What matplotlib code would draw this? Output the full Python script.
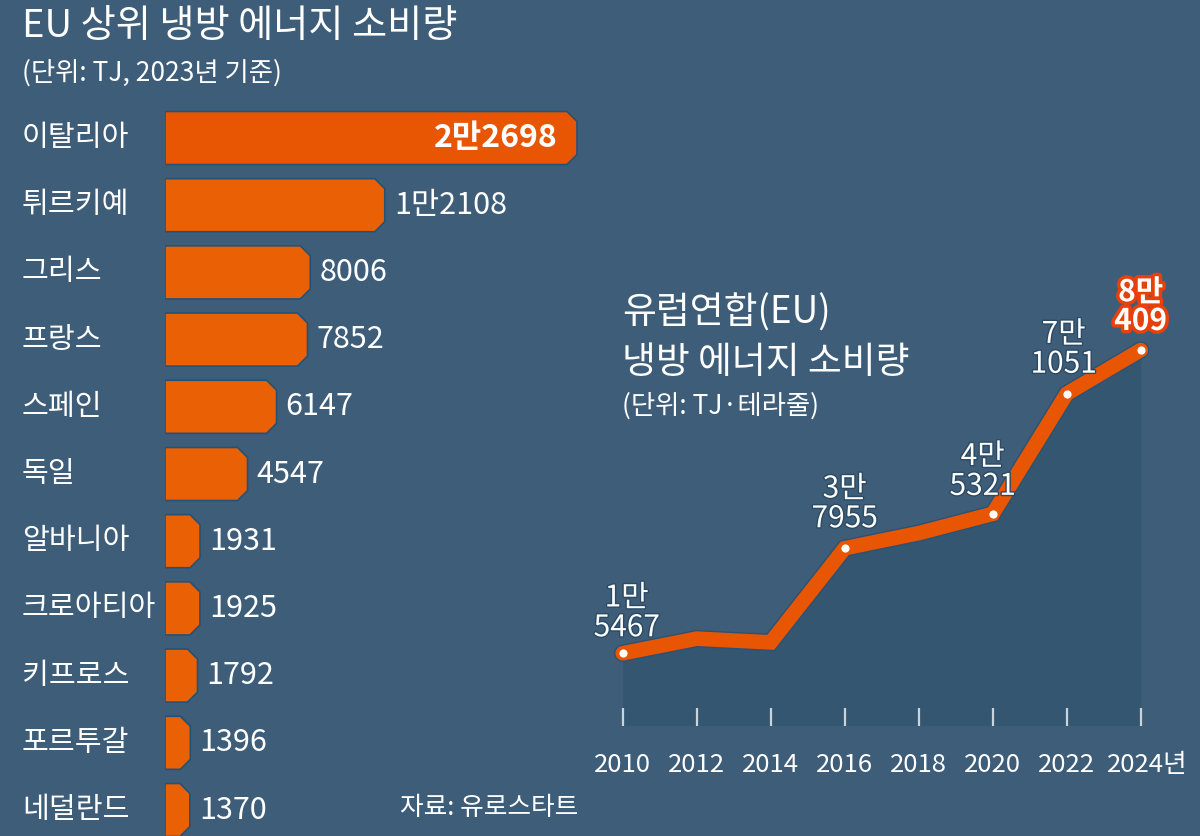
import matplotlib
matplotlib.use('Agg')
import matplotlib.pyplot as plt
import matplotlib.patheffects as pe
from matplotlib.patches import Polygon
import numpy as np

plt.rcParams['font.family'] = ['Noto Sans CJK KR', 'DejaVu Sans']

# data
countries = ['이탈리아', '튀르키예', '그리스', '프랑스', '스페인', '독일',
             '알바니아', '크로아티아', '키프로스', '포르투갈', '네덜란드']
cool_2023 = [22698, 12108, 8006, 7852, 6147, 4547, 1931, 1925, 1792, 1396, 1370]
cool_labels = ['2만2698', '1만2108', '8006', '7852', '6147', '4547',
               '1931', '1925', '1792', '1396', '1370']

years = [2010, 2012, 2014, 2016, 2018, 2020, 2022, 2024]
eu_total = [15467, 18600, 17800, 37955, 41200, 45321, 71051, 80409]
point_years = [2010, 2016, 2020, 2022, 2024]
point_vals = [15467, 37955, 45321, 71051, 80409]
point_labels = ['1만\n5467', '3만\n7955', '4만\n5321', '7만\n1051', '8만\n409']
tick_labels = ['2010', '2012', '2014', '2016', '2018', '2020', '2022', '2024년']

BG = '#3e5d78'
ORANGE = '#ea6004'
ORANGE_TOP = '#e85604'
AREA = '#355670'
WHITE = '#ffffff'

W, H = 1200, 836
fig = plt.figure(figsize=(W / 100, H / 100), dpi=100)
fig.patch.set_facecolor(BG)

# ---- bar chart (left) ----
bx0 = 165
bax = fig.add_axes([bx0 / W, 0, (600 - bx0) / W, 1])
bax.set_facecolor('none')
px_per_tj = 412 / 22698
bax.set_xlim(0, (600 - bx0) / px_per_tj)
row_h = 67.2
top_c = 138
bax.set_ylim((H - top_c) / row_h, -top_c / row_h)
bax.axis('off')

bar_h = 0.79
cx = 10 / px_per_tj          # chamfer in data units (x)
cy = 10 / row_h              # chamfer in data units (y)
for i, v in enumerate(cool_2023):
    t, b = i - bar_h / 2, i + bar_h / 2
    poly = Polygon([(0, t), (v - cx, t), (v, t + cy), (v, b - cy), (v - cx, b), (0, b)],
                   closed=True, facecolor=ORANGE_TOP if i == 0 else ORANGE,
                   edgecolor='#245276', linewidth=1.2, zorder=2)
    bax.add_patch(poly)
    if i == 0:
        bax.annotate(cool_labels[i], (v, i), xytext=(-14, 0), textcoords='offset points',
                     ha='right', va='center', fontsize=23, color=WHITE,
                     fontweight='bold', zorder=3)
    else:
        bax.annotate(cool_labels[i], (v, i), xytext=(6.5, 0), textcoords='offset points',
                     ha='left', va='center', fontsize=22, color=WHITE, zorder=3)
    fig.text(22 / W, 1 - (top_c + i * row_h) / H, countries[i], ha='left', va='center',
             fontsize=21, color=WHITE)

# ---- line chart (right) ----
lax = fig.add_axes([0, 0, 1, 1])
lax.set_facecolor('none')
x_px_2010, px_per_year = 622.7, 37.0
lax.set_xlim(2010 - x_px_2010 / px_per_year, 2010 + (W - x_px_2010) / px_per_year)
y0_px, px_per_val = 725.5, 0.00467
lax.set_ylim((y0_px - H) / px_per_val, y0_px / px_per_val)
lax.axis('off')

lax.fill_between(years, eu_total, 0, color=AREA, linewidth=0, zorder=1)
lax.plot(years, eu_total, color=ORANGE_TOP, linewidth=10.5, solid_joinstyle='miter',
         solid_capstyle='round', zorder=3,
         path_effects=[pe.Stroke(linewidth=12.5, foreground='#2b5273'), pe.Normal()])
lax.scatter(point_years, point_vals, s=55, color=WHITE, edgecolor=ORANGE_TOP,
            linewidth=1.5, zorder=4)

tick_top = (y0_px - 708) / px_per_val
lax.vlines(years, 0, tick_top, color='#c9d3dc', linewidth=1.6, zorder=2)
for yr, lab in zip(years, tick_labels):
    dx = 7 if lab.endswith('년') else 0
    lax.annotate(lab, (yr, 0), xytext=(dx * 0.72, -39 * 0.72), textcoords='offset points',
                 ha='center', va='center', fontsize=18.5, color=WHITE)

label_dx = [4, 0, -10, -3, 0]
label_dy = [10, 14, 12, 14, 14]
for (yr, v, lab, dx, dy) in zip(point_years, point_vals, point_labels, label_dx, label_dy):
    last = yr == 2024
    if last:
        effects = [pe.Stroke(linewidth=5, foreground='#e8400a'), pe.Normal()]
    else:
        effects = [pe.Stroke(linewidth=2, foreground='#2b4a63'), pe.Normal()]
    lax.annotate(lab, (yr, v), xytext=(dx * 0.72, dy * 0.72), textcoords='offset points',
                 ha='center', va='bottom', fontsize=21.5, color=WHITE, linespacing=0.95,
                 fontweight='bold' if last else 'normal', path_effects=effects, zorder=5)

# ---- titles ----
fig.text(22 / W, 1 - 26 / H, 'EU 상위 냉방 에너지 소비량', ha='left', va='center',
         fontsize=27.5, color=WHITE)
fig.text(22 / W, 1 - 73 / H, '(단위: TJ, 2023년 기준)', ha='left', va='center',
         fontsize=19, color=WHITE)
fig.text(622 / W, 1 - 338 / H, '유럽연합(EU)\n냉방 에너지 소비량', ha='left', va='center',
         fontsize=26.5, color=WHITE, linespacing=1.35)
fig.text(622 / W, 1 - 406 / H, '(단위: TJ·테라줄)', ha='left', va='center',
         fontsize=19, color=WHITE)
fig.text(400 / W, 1 - 808 / H, '자료: 유로스타트', ha='left', va='center',
         fontsize=18.5, color=WHITE)

fig.savefig('out.png', dpi=100, facecolor=BG)
